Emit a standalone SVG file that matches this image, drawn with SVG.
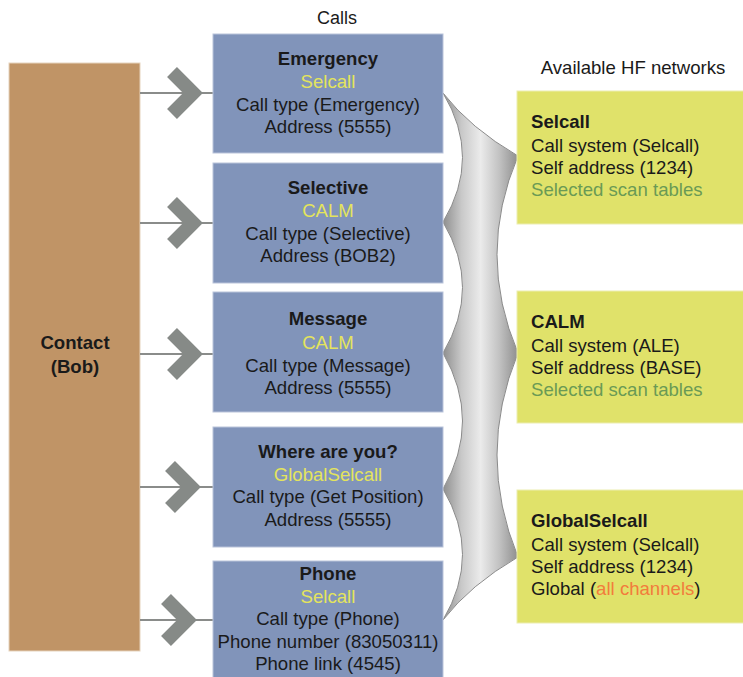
<svg xmlns="http://www.w3.org/2000/svg" width="743" height="677" viewBox="0 0 743 677">
  <style>
    text { font-family: "Liberation Sans", Arial, sans-serif; font-size: 18.6px; fill: #1a1a1a; }
    .c { text-anchor: middle; }
    .b { font-weight: bold; }
    .y { fill: #e4e45c; }
    .g { fill: #6a9a55; }
    .o { fill: #f27c3c; }
    .call { fill: #8194ba; stroke: #b9c3da; stroke-width: 1; }
    .net { fill: #e0e26a; stroke: #ecedb0; stroke-width: 1; }
    .link { stroke: #8a8c8a; stroke-width: 2; fill: none; }
    .chev { stroke: #868a87; stroke-width: 14; fill: none; stroke-linejoin: miter; stroke-linecap: butt; }
  </style>
  <defs>
    <linearGradient id="brace" gradientUnits="userSpaceOnUse" x1="443" y1="0" x2="518" y2="0">
      <stop offset="0" stop-color="#8e8e8e"/>
      <stop offset="0.25" stop-color="#c9c9c9"/>
      <stop offset="0.5" stop-color="#ebebeb"/>
      <stop offset="0.75" stop-color="#c2c2c2"/>
      <stop offset="1" stop-color="#8e8e8e"/>
    </linearGradient>
  </defs>

  <rect width="743" height="677" fill="#ffffff"/>

  <text class="c" x="337" y="24" style="font-size:18px">Calls</text>
  <text class="c" x="633" y="74">Available HF networks</text>

  <g id="contact">
    <rect x="9" y="63" width="131" height="588" fill="#c09466" stroke="#e6d3bd" stroke-width="1"/>
    <text class="c b" x="75" y="349">Contact</text>
    <text class="c b" x="75" y="373">(Bob)</text>
  </g>

  <g id="connectors">
    <line class="link" x1="140" y1="93" x2="213" y2="93"/>
    <line class="link" x1="140" y1="223" x2="213" y2="223"/>
    <line class="link" x1="140" y1="354" x2="213" y2="354"/>
    <line class="link" x1="140" y1="487" x2="213" y2="487"/>
    <line class="link" x1="140" y1="620" x2="213" y2="620"/>
    <polyline class="chev" points="172,72 193,93 172,114"/>
    <polyline class="chev" points="172,202 193,223 172,244"/>
    <polyline class="chev" points="172,333 193,354 172,375"/>
    <polyline class="chev" points="170,466 191,487 170,508"/>
    <polyline class="chev" points="166,599 187,620 166,641"/>
    <path d="M443,93 Q470,128 518,156 Q476,254.5 518,353 Q476,455 518,557 Q470,585 443,620 Q482,554.5 443,489 Q482,421 443,353 Q482,287.5 443,222 Q482,157.5 443,93 Z" fill="url(#brace)" stroke="#8a8a8a" stroke-width="1"/>
  </g>

  <g id="call-emergency">
    <rect class="call" x="213" y="34" width="230" height="119"/>
    <text class="c b" x="328" y="65">Emergency</text>
    <text class="c y" x="328" y="88">Selcall</text>
    <text class="c" x="328" y="111">Call type (Emergency)</text>
    <text class="c" x="328" y="133">Address (5555)</text>
  </g>

  <g id="call-selective">
    <rect class="call" x="213" y="163" width="230" height="120"/>
    <text class="c b" x="328" y="194">Selective</text>
    <text class="c y" x="328" y="217">CALM</text>
    <text class="c" x="328" y="240">Call type (Selective)</text>
    <text class="c" x="328" y="262">Address (BOB2)</text>
  </g>

  <g id="call-message">
    <rect class="call" x="213" y="292" width="230" height="120"/>
    <text class="c b" x="328" y="325">Message</text>
    <text class="c y" x="328" y="349">CALM</text>
    <text class="c" x="328" y="372">Call type (Message)</text>
    <text class="c" x="328" y="394">Address (5555)</text>
  </g>

  <g id="call-where">
    <rect class="call" x="213" y="427" width="230" height="120"/>
    <text class="c b" x="328" y="458">Where are you?</text>
    <text class="c y" x="328" y="481">GlobalSelcall</text>
    <text class="c" x="328" y="503">Call type (Get Position)</text>
    <text class="c" x="328" y="526">Address (5555)</text>
  </g>

  <g id="call-phone">
    <rect class="call" x="213" y="561" width="230" height="125"/>
    <text class="c b" x="328" y="580">Phone</text>
    <text class="c y" x="328" y="603">Selcall</text>
    <text class="c" x="328" y="625">Call type (Phone)</text>
    <text class="c" x="328" y="648">Phone number (83050311)</text>
    <text class="c" x="328" y="670">Phone link (4545)</text>
  </g>

  <g id="net-selcall">
    <rect class="net" x="517" y="91" width="230" height="133"/>
    <text class="b" x="531" y="128">Selcall</text>
    <text x="531" y="152">Call system (Selcall)</text>
    <text x="531" y="174">Self address (1234)</text>
    <text class="g" x="531" y="196">Selected scan tables</text>
  </g>

  <g id="net-calm">
    <rect class="net" x="517" y="291" width="230" height="132"/>
    <text class="b" x="531" y="328">CALM</text>
    <text x="531" y="352">Call system (ALE)</text>
    <text x="531" y="374">Self address (BASE)</text>
    <text class="g" x="531" y="396">Selected scan tables</text>
  </g>

  <g id="net-globalselcall">
    <rect class="net" x="517" y="490" width="230" height="133"/>
    <text class="b" x="531" y="527">GlobalSelcall</text>
    <text x="531" y="551">Call system (Selcall)</text>
    <text x="531" y="573">Self address (1234)</text>
    <text x="531" y="595">Global (<tspan class="o">all channels</tspan>)</text>
  </g>
</svg>
